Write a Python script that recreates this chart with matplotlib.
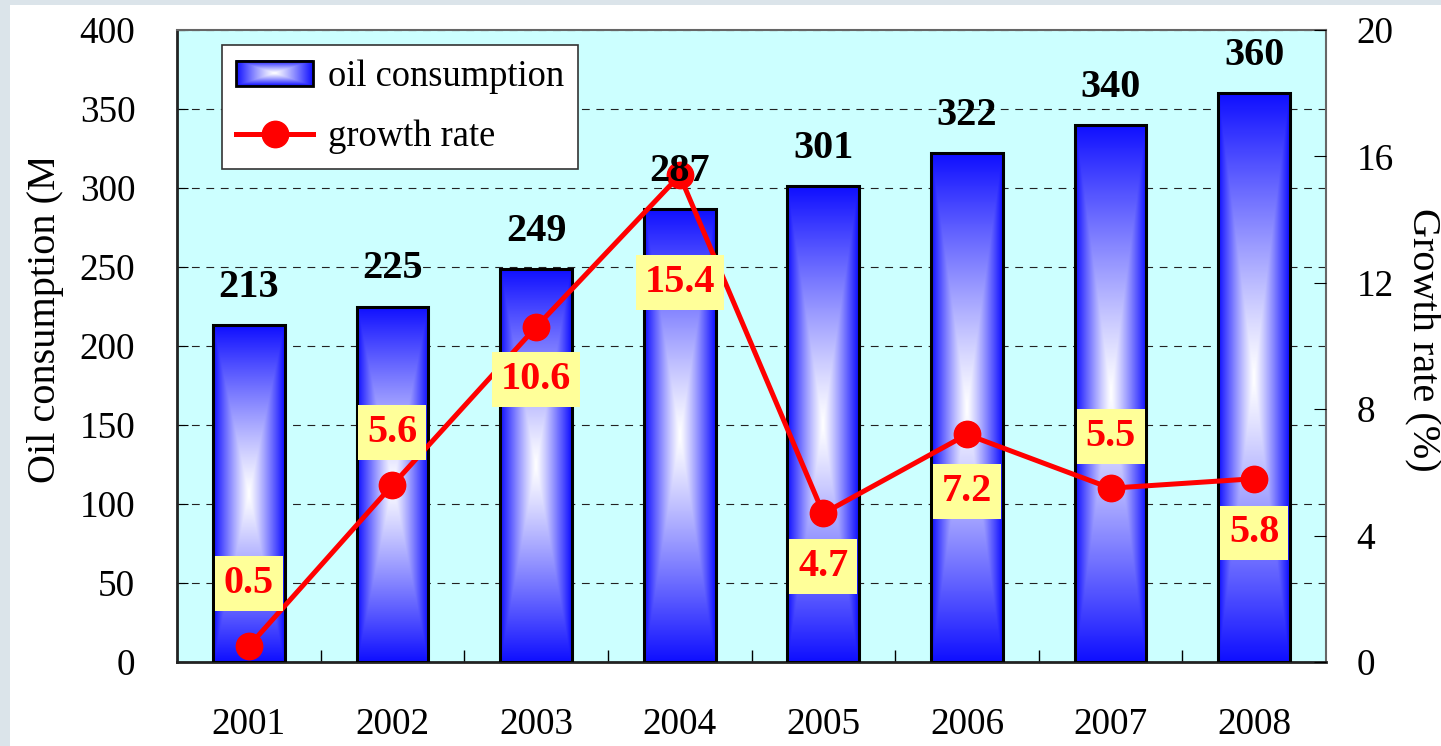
import numpy as np
import matplotlib
matplotlib.use('Agg')
import matplotlib.pyplot as plt
from matplotlib.patches import Rectangle
from matplotlib.lines import Line2D
from matplotlib.legend_handler import HandlerBase
from matplotlib.image import BboxImage
from matplotlib.transforms import Bbox, TransformedBbox

plt.rcParams['font.family'] = ['Liberation Serif', 'DejaVu Serif']

# data
years = ['2001', '2002', '2003', '2004', '2005', '2006', '2007', '2008']
consumption = [213, 225, 249, 287, 301, 322, 340, 360]
growth = [0.5, 5.6, 10.6, 15.4, 4.7, 7.2, 5.5, 5.8]

# label offsets for growth boxes (points, + = below the marker)
growth_offsets = [-45, -38, 38, 77, 38, 41, -37, 39]

BLUE = np.array([0.06, 0.06, 1.0])
WHITE = np.array([1.0, 1.0, 1.0])


def gradient(nx, ny, p=1.15):
    # rectangular "from centre" gradient: white middle, blue edges
    u = np.abs(np.linspace(-1, 1, nx))[None, :]
    v = np.abs(np.linspace(-1, 1, ny))[:, None]
    t = np.maximum(u, v) ** p
    return WHITE * (1 - t[..., None]) + BLUE * t[..., None]


class GradientHandler(HandlerBase):
    def create_artists(self, legend, orig_handle, xdescent, ydescent,
                       width, height, fontsize, trans):
        bb = Bbox.from_bounds(-xdescent, -ydescent, width, height)
        img = BboxImage(TransformedBbox(bb, trans), interpolation='bilinear')
        img.set_data(gradient(80, 30))
        frame = Rectangle((-xdescent, -ydescent), width, height, fill=False,
                          edgecolor='black', lw=2, transform=trans)
        return [img, frame]


fig = plt.figure(figsize=(14.41, 7.46), dpi=100, facecolor='#dbe4ea')
fig.patches.append(Rectangle((10 / 1441, 0), 1, 741 / 746, transform=fig.transFigure,
                             facecolor='white', edgecolor='none', zorder=-5))

ax = fig.add_axes([177 / 1441, 84 / 746, 1149 / 1441, 632 / 746])
ax.set_facecolor('#ccffff')
x = np.arange(len(years))

for i, val in enumerate(consumption):
    ax.imshow(gradient(60, 200), extent=(i - 0.25, i + 0.25, 0, val),
              aspect='auto', zorder=2, interpolation='bilinear')
ax.bar(x, consumption, width=0.5, fill=False, edgecolor='black', lw=2.2, zorder=3)

ax.set_xlim(-0.5, len(years) - 0.5)
ax.set_ylim(0, 400)
ax.set_yticks(range(0, 401, 50))
ax.set_xticks(x)
ax.set_xticklabels(years)
ax.set_xticks(x[:-1] + 0.5, minor=True)
ax.set_axisbelow(True)
ax.yaxis.grid(True, color='#222222', lw=0.8, linestyle=(0, (7, 6)))

ax.tick_params(axis='y', direction='in', length=8, pad=30, labelsize=26.8)
ax.tick_params(axis='x', which='major', length=0, pad=33, labelsize=26.8)
ax.tick_params(axis='x', which='minor', direction='in', length=9, width=1)
for s in ['left', 'bottom']:
    ax.spines[s].set_color('#222222')
    ax.spines[s].set_linewidth(2)
for s in ['top', 'right']:
    ax.spines[s].set_color('#666666')
    ax.spines[s].set_linewidth(1.5)

ax2 = ax.twinx()
for s in ax2.spines.values():
    s.set_visible(False)
ax2.set_ylim(0, 20)
ax2.set_yticks(range(0, 21, 4))
ax2.tick_params(axis='y', direction='in', length=9, pad=22, labelsize=26.8)
ax2.plot(x, growth, color='red', lw=3.6, marker='o', ms=19, zorder=3)

for i, g in enumerate(growth):
    ax2.annotate(f'{g}', (x[i], g), xytext=(0, -growth_offsets[i]),
                 textcoords='offset points', ha='center', va='center',
                 fontsize=29, fontweight='bold', color='red', zorder=5,
                 bbox=dict(boxstyle='square,pad=0.22', fc='#ffff99', ec='none'))

for i, c in enumerate(consumption):
    ax2.annotate(f'{c}', (x[i], c), xycoords=ax.transData, xytext=(0, 27),
                 textcoords='offset points', ha='center', va='center',
                 fontsize=29, fontweight='bold', color='black', zorder=6)

bar_proxy = Rectangle((0, 0), 1, 1)
line_proxy = Line2D([], [], color='red', lw=3.6, marker='o', ms=19)
leg = ax2.legend([bar_proxy, line_proxy], ['oil consumption', 'growth rate'],
                 handler_map={bar_proxy: GradientHandler()},
                 loc='upper left', bbox_to_anchor=(0.039, 0.976), borderaxespad=0,
                 fontsize=26.3, frameon=True, fancybox=False, framealpha=1,
                 edgecolor='#333333', borderpad=0.4, labelspacing=0.7,
                 handlelength=2.1, handletextpad=0.4)
leg.get_frame().set_linewidth(1.2)
leg.set_zorder(10)

ylab = fig.text(46 / 1441, 263 / 746, 'Oil consumption (Mt)', rotation=90,
                ha='center', va='bottom', fontsize=29)
ylab.set_clip_box(TransformedBbox(Bbox([[0, 0], [1, 586 / 746]]), fig.transFigure))
ylab.set_clip_on(True)

fig.text(1423 / 1441, 406 / 746, 'Growth rate (%)', rotation=-90,
         ha='center', va='center', fontsize=29)

fig.savefig('out.png', dpi=100, facecolor=fig.get_facecolor())
